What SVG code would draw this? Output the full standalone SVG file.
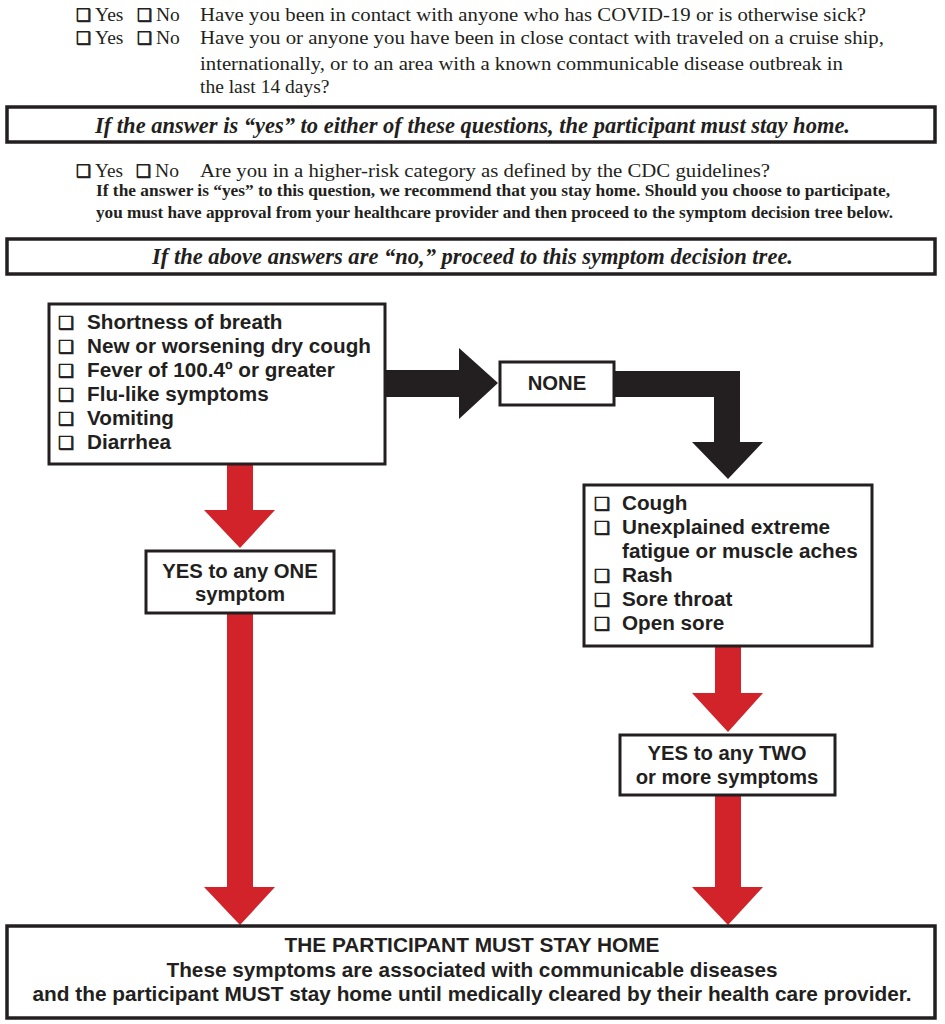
<svg xmlns="http://www.w3.org/2000/svg" width="945" height="1024" viewBox="0 0 945 1024">
<style>
.q{font-family:"Liberation Serif","Times New Roman",serif;font-size:19.5px;fill:#231f20}
.cb{font-family:"DejaVu Sans",sans-serif;fill:#231f20;stroke:#231f20;stroke-width:0.7}
.bi{font-family:"Liberation Serif","Times New Roman",serif;font-weight:bold;font-style:italic;font-size:24px;fill:#231f20}
.bs{font-family:"Liberation Serif","Times New Roman",serif;font-weight:bold;font-size:16.5px;fill:#231f20}
.box{fill:#fff;stroke:#231f20;stroke-width:3}
.wide{fill:#fff;stroke:#231f20;stroke-width:3.5}
.it{font-family:"Liberation Sans",Arial,sans-serif;font-weight:bold;font-size:20.7px;fill:#231f20}
.lb{font-family:"Liberation Sans",Arial,sans-serif;font-weight:bold;font-size:20.3px;fill:#231f20;text-anchor:middle}
.red{fill:#d2232a}
.blk{fill:#231f20}
.foot{font-family:"Liberation Sans",Arial,sans-serif;font-weight:bold;font-size:21px;fill:#231f20;text-anchor:middle}
</style>

<g id="questions">
  <text class="cb" x="76" y="21" font-size="17">❑</text><text class="q" x="95" y="21">Yes</text>
  <text class="cb" x="137" y="21" font-size="17">❑</text><text class="q" x="156" y="21">No</text>
  <text class="q" x="200" y="21" textLength="666" lengthAdjust="spacingAndGlyphs">Have you been in contact with anyone who has COVID-19 or is otherwise sick?</text>
  <text class="cb" x="76" y="44" font-size="17">❑</text><text class="q" x="95" y="44">Yes</text>
  <text class="cb" x="137" y="44" font-size="17">❑</text><text class="q" x="156" y="44">No</text>
  <text class="q" x="200" y="44" textLength="684" lengthAdjust="spacingAndGlyphs">Have you or anyone you have been in close contact with traveled on a cruise ship,</text>
  <text class="q" x="200" y="70" textLength="643" lengthAdjust="spacingAndGlyphs">internationally, or to an area with a known communicable disease outbreak in</text>
  <text class="q" x="200" y="93">the last 14 days?</text>
</g>

<g id="notice-yes">
  <rect class="wide" x="7" y="107" width="928" height="35"/>
  <text class="bi" x="95" y="133" textLength="755" lengthAdjust="spacingAndGlyphs">If the answer is “yes” to either of these questions, the participant must stay home.</text>
</g>

<g id="higher-risk">
  <text class="cb" x="76" y="177" font-size="17">❑</text><text class="q" x="95" y="177" textLength="28" lengthAdjust="spacingAndGlyphs">Yes</text>
  <text class="cb" x="136" y="177" font-size="17">❑</text><text class="q" x="155" y="177" textLength="24" lengthAdjust="spacingAndGlyphs">No</text>
  <text class="q" x="200" y="177" textLength="570" lengthAdjust="spacingAndGlyphs">Are you in a higher-risk category as defined by the CDC guidelines?</text>
  <text class="bs" x="96" y="196" textLength="794" lengthAdjust="spacingAndGlyphs">If the answer is “yes” to this question, we recommend that you stay home. Should you choose to participate,</text>
  <text class="bs" x="96" y="218" textLength="797" lengthAdjust="spacingAndGlyphs">you must have approval from your healthcare provider and then proceed to the symptom decision tree below.</text>
</g>

<g id="notice-no">
  <rect class="wide" x="7" y="239" width="928" height="35"/>
  <text class="bi" x="152" y="264" textLength="641" lengthAdjust="spacingAndGlyphs">If the above answers are “no,” proceed to this symptom decision tree.</text>
</g>

<g id="connectors">
  <polygon class="blk" points="386,370 459,370 459,348 498,383 459,419 459,397 386,397"/>
  <polygon class="blk" points="614,371 740,371 740,442 763,442 728,479 692,442 714,442 714,397 614,397"/>
  <polygon class="red" points="227,465 253,465 253,510 275,510 240,548 204,510 227,510"/>
  <polygon class="red" points="227,614 253,614 253,887 275,887 240,925 204,887 227,887"/>
  <polygon class="red" points="715,647 741,647 741,693 763,693 728,732 692,693 715,693"/>
  <polygon class="red" points="715,796 741,796 741,887 763,887 728,925 692,887 715,887"/>
</g>

<g id="symptoms-major">
  <rect class="box" x="49" y="304" width="336" height="160"/>
  <text class="cb" x="58" y="329" font-size="18">❑</text><text class="it" x="87" y="329">Shortness of breath</text>
  <text class="cb" x="58" y="353" font-size="18">❑</text><text class="it" x="87" y="353">New or worsening dry cough</text>
  <text class="cb" x="58" y="377" font-size="18">❑</text><text class="it" x="87" y="377">Fever of 100.4º or greater</text>
  <text class="cb" x="58" y="401" font-size="18">❑</text><text class="it" x="87" y="401">Flu-like symptoms</text>
  <text class="cb" x="58" y="425" font-size="18">❑</text><text class="it" x="87" y="425">Vomiting</text>
  <text class="cb" x="58" y="449" font-size="18">❑</text><text class="it" x="87" y="449">Diarrhea</text>
</g>

<g id="none">
  <rect class="box" x="500" y="362" width="114" height="43"/>
  <text class="lb" x="557" y="390">NONE</text>
</g>

<g id="symptoms-minor">
  <rect class="box" x="584" y="485" width="288" height="161"/>
  <text class="cb" x="594" y="510" font-size="18">❑</text><text class="it" x="622" y="510">Cough</text>
  <text class="cb" x="594" y="534" font-size="18">❑</text><text class="it" x="622" y="534">Unexplained extreme</text>
  <text class="it" x="622" y="558">fatigue or muscle aches</text>
  <text class="cb" x="594" y="582" font-size="18">❑</text><text class="it" x="622" y="582">Rash</text>
  <text class="cb" x="594" y="606" font-size="18">❑</text><text class="it" x="622" y="606">Sore throat</text>
  <text class="cb" x="594" y="630" font-size="18">❑</text><text class="it" x="622" y="630">Open sore</text>
</g>

<g id="yes-one">
  <rect class="box" x="146" y="551" width="188" height="62"/>
  <text class="lb" x="240" y="578">YES to any ONE</text>
  <text class="lb" x="240" y="601">symptom</text>
</g>

<g id="yes-two">
  <rect class="box" x="620" y="735" width="215" height="60"/>
  <text class="lb" x="727" y="760">YES to any TWO</text>
  <text class="lb" x="727" y="784">or more symptoms</text>
</g>

<g id="stay-home">
  <rect class="wide" x="7" y="926" width="928" height="92"/>
  <text class="foot" x="472" y="952" textLength="375" lengthAdjust="spacingAndGlyphs">THE PARTICIPANT MUST STAY HOME</text>
  <text class="foot" x="472" y="977" textLength="611" lengthAdjust="spacingAndGlyphs">These symptoms are associated with communicable diseases</text>
  <text class="foot" x="472" y="1001" textLength="879" lengthAdjust="spacingAndGlyphs">and the participant MUST stay home until medically cleared by their health care provider.</text>
</g>
</svg>
